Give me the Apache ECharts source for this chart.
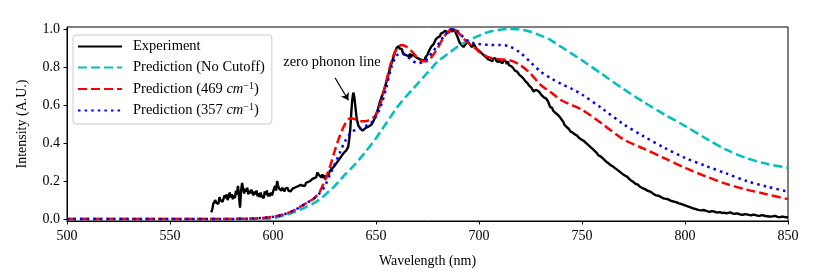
<!DOCTYPE html>
<html>
<head>
<meta charset="utf-8">
<script src="https://cdn.jsdelivr.net/npm/echarts@6/dist/echarts.min.js"></script>
<style>html,body{margin:0;padding:0;background:#fff;}#c{width:830px;height:277px;}</style>
</head>
<body>
<div id="c"></div>
<script>
// ---- data ----
const seriesNames = ['Experiment', 'Prediction (No Cutoff)', 'Prediction (469 cm-1)', 'Prediction (357 cm-1)'];
const xTicks = [500, 550, 600, 650, 700, 750, 800, 850];
const yTicks = [0.0, 0.2, 0.4, 0.6, 0.8, 1.0];

const experiment = [
[570,0.035],[570.5,0.05],[571,0.08],[571.5,0.07],[572,0.1],[572.5,0.085],[573,0.095],[573.5,0.08],[574,0.115],[574.5,0.1],
[575,0.11],[575.5,0.09],[576,0.1],[576.5,0.125],[577,0.11],[577.5,0.13],[578,0.1],[578.5,0.12],[579,0.14],[579.5,0.115],
[580,0.13],[580.5,0.105],[581,0.125],[581.5,0.11],[582,0.15],[582.5,0.13],[583,0.175],[583.5,0.12],[584,0.06],[584.5,0.15],
[585,0.19],[585.5,0.16],[586,0.135],[586.5,0.16],[587,0.145],[587.5,0.165],[588,0.13],[588.5,0.15],[589,0.135],[589.5,0.155],
[590,0.14],[590.5,0.125],[591,0.145],[591.5,0.13],[592,0.15],[592.5,0.12],[593,0.135],[593.5,0.115],[594,0.14],[594.5,0.12],
[595,0.13],[595.5,0.11],[596,0.145],[596.5,0.13],[597,0.15],[597.5,0.12],[598,0.135],[598.5,0.12],[599,0.14],[599.5,0.125],
[600,0.13],[600.5,0.16],[601,0.175],[601.5,0.15],[602,0.2],[602.5,0.175],[603,0.16],[603.5,0.17],[604,0.15],[604.5,0.165],
[605,0.155],[605.5,0.145],[606,0.16],[606.5,0.15],[607,0.165],[607.5,0.15],[608,0.16],[608.5,0.145],[609,0.155],[609.5,0.16],
[610,0.15],[610.5,0.165],[611,0.155],[611.5,0.17],[612,0.16],[612.5,0.175],[613,0.165],[613.5,0.18],[614,0.17],[614.5,0.175],
[615,0.185],[615.5,0.175],[616,0.19],[616.5,0.18],[617,0.195],[617.5,0.185],[618,0.2],[618.5,0.19],[619,0.21],[619.5,0.205],
[620,0.215],[620.5,0.225],[621,0.22],[621.5,0.245],[622,0.25],[622.5,0.23],[623,0.24],[623.5,0.22],[624,0.235],[624.5,0.215],
[625,0.23],[625.5,0.21],[626,0.225],[626.5,0.22],[627,0.235],[627.5,0.25],[628,0.24],[628.5,0.265],[629,0.26],[629.5,0.275],
[630,0.27],[630.5,0.29],[631,0.285],[631.5,0.305],[632,0.3],[632.5,0.32],[633,0.31],[633.5,0.335],[634,0.33],[634.5,0.35],
[635,0.345],[635.5,0.36],[636,0.37],[636.5,0.38],[637,0.42],[637.5,0.47],[638,0.56],[638.5,0.63],[639,0.665],[639.5,0.64],
[640,0.59],[640.5,0.54],[641,0.51],[641.5,0.49],[642,0.48],[642.5,0.475],[643,0.47],[643.5,0.465],[644,0.475],[645,0.48],
[646,0.485],[647,0.49],[648,0.5],[649,0.52],[650,0.55],[651,0.58],[652,0.62],[653,0.65],[654,0.68],[655,0.72],
[656,0.76],[657,0.8],[658,0.835],[659,0.87],[659.5,0.88],[660,0.9],[660.5,0.89],[661,0.91],[661.5,0.895],[662,0.885],
[662.5,0.895],[663,0.875],[663.5,0.885],[664,0.865],[664.5,0.875],[665,0.86],[665.5,0.87],[666,0.855],[666.5,0.87],[667,0.85],
[667.5,0.865],[668,0.875],[668.5,0.86],[669,0.87],[669.5,0.85],[670,0.86],[670.5,0.845],[671,0.855],[671.5,0.84],[672,0.85],
[672.5,0.835],[673,0.845],[673.5,0.835],[674,0.85],[675,0.865],[676,0.89],[676.5,0.885],[677,0.91],[678,0.92],[679,0.945],
[679.5,0.935],[680,0.955],[681,0.96],[681.5,0.975],[682,0.965],[682.5,0.98],[683,0.97],[683.5,0.99],[684,1.0],[684.5,0.985],
[685,0.995],[685.5,0.98],[686,1.0],[686.5,0.99],[687,0.985],[687.5,1.0],[688,1.0],[688.5,0.985],[689,0.975],[689.5,0.96],
[690,0.945],[690.5,0.93],[691,0.925],[691.5,0.915],[692,0.92],[692.5,0.905],[693,0.91],[693.5,0.92],[694,0.925],[694.5,0.935],
[695,0.93],[695.5,0.92],[696,0.925],[696.5,0.905],[697,0.91],[697.5,0.92],[698,0.915],[698.5,0.9],[699,0.905],[699.5,0.89],
[700,0.895],[700.5,0.88],[701,0.885],[701.5,0.87],[702,0.875],[702.5,0.86],[703,0.865],[703.5,0.85],[704,0.855],[704.5,0.84],
[705,0.85],[705.5,0.835],[706,0.845],[706.5,0.83],[707,0.845],[707.5,0.835],[708,0.845],[708.5,0.83],[709,0.84],[709.5,0.825],
[710,0.84],[710.5,0.825],[711,0.835],[711.5,0.82],[712,0.835],[712.5,0.825],[713,0.83],[713.5,0.815],[714,0.83],[714.5,0.81],
[715,0.82],[715.5,0.805],[716,0.815],[716.5,0.795],[717,0.8],[717.5,0.78],[718,0.79],[718.5,0.775],[719,0.78],[719.5,0.76],
[720,0.765],[720.5,0.75],[721,0.755],[721.5,0.74],[722,0.745],[722.5,0.725],[723,0.73],[723.5,0.715],[724,0.72],[724.5,0.7],
[725,0.71],[725.5,0.69],[726,0.695],[726.5,0.67],[727,0.66],[727.5,0.68],[728,0.69],[728.5,0.675],[729,0.68],[729.5,0.665],
[730,0.665],[730.5,0.65],[731,0.655],[731.5,0.64],[732,0.645],[732.5,0.635],[733,0.64],[733.5,0.62],[734,0.605],[734.5,0.59],
[735,0.58],[735.5,0.585],[736,0.57],[736.5,0.575],[737,0.56],[737.5,0.565],[738,0.55],[738.5,0.555],[739,0.54],[739.5,0.535],
[740,0.525],[740.5,0.515],[741,0.51],[741.5,0.495],[742,0.5],[742.5,0.485],[743,0.49],[743.5,0.475],[744,0.475],[744.5,0.46],
[745,0.465],[745.5,0.455],[746,0.455],[746.5,0.445],[747,0.447],[747.5,0.44],[748,0.44],[748.5,0.428],[749,0.43],[749.5,0.42],
[750,0.425],[751,0.41],[751.5,0.415],[752,0.4],[752.5,0.405],[753,0.39],[753.5,0.395],[754,0.38],[754.5,0.385],[755,0.37],
[755.5,0.372],[756,0.36],[756.5,0.365],[757,0.35],[757.5,0.352],[758,0.335],[758.5,0.33],[759,0.33],[760,0.32],[760.5,0.322],
[761,0.31],[761.5,0.315],[762,0.3],[762.5,0.305],[763,0.292],[763.5,0.295],[764,0.283],[764.5,0.287],[765,0.277],[766,0.268],
[766.5,0.272],[767,0.26],[767.5,0.262],[768,0.252],[768.5,0.255],[769,0.243],[769.5,0.245],[770,0.235],[770.5,0.238],[771,0.228],
[772,0.222],[772.5,0.225],[773,0.21],[773.5,0.212],[774,0.202],[775,0.195],[775.5,0.197],[776,0.185],[777,0.182],[777.5,0.184],
[778,0.172],[779,0.165],[779.5,0.168],[780,0.16],[781,0.155],[781.5,0.157],[782,0.148],[783,0.145],[784,0.138],[784.5,0.14],
[785,0.13],[786,0.125],[786.5,0.127],[787,0.123],[788,0.118],[789,0.112],[789.5,0.114],[790,0.108],[791,0.106],[792,0.103],
[792.5,0.105],[793,0.097],[794,0.094],[795,0.091],[795.5,0.093],[796,0.088],[797,0.083],[798,0.08],[798.5,0.082],[799,0.076],
[800,0.072],[801,0.068],[801.5,0.07],[802,0.064],[803,0.06],[804,0.056],[804.5,0.058],[805,0.054],[806,0.05],[807,0.047],
[808,0.046],[809,0.048],[810,0.045],[811,0.041],[812,0.038],[813,0.042],[814,0.04],[815,0.036],[816,0.035],[817,0.037],
[818,0.032],[819,0.034],[820,0.03],[821,0.033],[822,0.035],[823,0.03],[824,0.027],[825,0.03],[826,0.028],[827,0.024],
[828,0.022],[829,0.026],[830,0.025],[831,0.022],[832,0.02],[833,0.023],[834,0.022],[835,0.018],[836,0.017],[837,0.02],
[838,0.02],[839,0.016],[840,0.015],[841,0.014],[842,0.013],[843,0.016],[844,0.016],[845,0.012],[846,0.01],[847,0.013],
[848,0.012],[849,0.01],[850,0.01]
];

const predWl = [500,520,540,560,580,590,595,600,605,610,615,620,622.5,625,627.5,630,632.5,635,637.5,640,642.5,645,647.5,650,652.5,655,657.5,660,662.5,665,667.5,670,672.5,675,677.5,680,682.5,685,687.5,690,692.5,695,697.5,700,705,710,715,720,725,730,735,740,745,750,760,770,780,790,800,810,820,830,840,850];

const noCutoff = [0,0,0,0,0,0,0,0.004,0.018,0.035,0.058,0.085,0.103,0.125,0.15,0.175,0.205,0.235,0.262,0.29,0.322,0.355,0.39,0.425,0.465,0.505,0.545,0.585,0.618,0.65,0.68,0.71,0.74,0.77,0.8,0.83,0.85,0.87,0.89,0.91,0.925,0.94,0.953,0.965,0.985,0.995,1.0,0.997,0.985,0.965,0.94,0.905,0.87,0.835,0.76,0.685,0.615,0.55,0.49,0.425,0.365,0.32,0.29,0.27];

const cut469 = [0,0,0,0,0.001,0.003,0.006,0.012,0.024,0.045,0.076,0.11,0.14,0.2,0.27,0.36,0.44,0.5,0.53,0.525,0.515,0.515,0.525,0.548,0.62,0.725,0.83,0.895,0.915,0.905,0.88,0.85,0.83,0.83,0.86,0.9,0.95,0.985,0.998,0.98,0.95,0.925,0.905,0.88,0.85,0.84,0.835,0.81,0.765,0.705,0.665,0.625,0.6,0.575,0.5,0.42,0.37,0.32,0.27,0.225,0.185,0.155,0.13,0.105];

const cut357 = [0,0,0,0,0.001,0.003,0.006,0.012,0.024,0.045,0.076,0.11,0.135,0.17,0.23,0.29,0.35,0.41,0.45,0.47,0.48,0.49,0.505,0.54,0.6,0.69,0.8,0.86,0.87,0.855,0.835,0.82,0.825,0.845,0.88,0.915,0.955,0.985,1.0,0.985,0.955,0.935,0.925,0.92,0.916,0.916,0.907,0.875,0.825,0.775,0.74,0.71,0.685,0.655,0.58,0.5,0.435,0.375,0.322,0.28,0.24,0.2,0.17,0.145];

// annotation (data coordinates)
const annText = 'zero phonon line';
const annTextAt = [628.6, 0.826];
const annArrowFrom = [630.1, 0.743];
const annArrowTo = [636.6, 0.625];

// ---- chart ----
const FONT = 'Liberation Serif';
const pair = (xs, ys) => xs.map((x, i) => [x, ys[i]]);

const chart = echarts.init(document.getElementById('c'), null, {renderer: 'canvas'});

const legendLabel = (name) => {
  const m = name.match(/^Prediction \((\d+) cm-1\)$/);
  if (m) return 'Prediction (' + m[1] + ' {i|cm}{sup|−1})';
  return name;
};

chart.setOption({
  animation: false,
  backgroundColor: '#fff',
  grid: {left: 67, right: 42, top: 27, bottom: 56, show: true, borderColor: '#000', borderWidth: 1, backgroundColor: 'transparent'},
  legend: {
    orient: 'vertical', left: 73, top: 35,
    padding: [4, 7, 6, 4],
    itemWidth: 44, itemHeight: 14, itemGap: 6,
    borderColor: '#cccccc', borderWidth: 1, borderRadius: 3,
    backgroundColor: 'rgba(255,255,255,0.85)',
    itemStyle: {opacity: 0, borderWidth: 0},
    data: seriesNames,
    formatter: legendLabel,
    textStyle: {
      fontFamily: FONT, fontSize: 14.5, color: '#000', padding: [0, 0, 0, 6],
      rich: {
        i: {fontFamily: FONT, fontSize: 14.5, fontStyle: 'italic', color: '#000'},
        sup: {fontFamily: FONT, fontSize: 10, color: '#000', verticalAlign: 'top', padding: [0, 0, 6, 0]}
      }
    }
  },
  xAxis: {
    type: 'value', min: 500, max: 850, interval: 50,
    name: 'Wavelength (nm)', nameLocation: 'middle', nameGap: 33,
    nameTextStyle: {fontFamily: FONT, fontSize: 14, color: '#000'},
    axisLine: {show: true, onZero: false, lineStyle: {color: '#000', width: 1}},
    axisTick: {show: true, length: 3.5, lineStyle: {color: '#000', width: 1}},
    axisLabel: {fontFamily: FONT, fontSize: 14, color: '#000', margin: 8, formatter: v => String(v)},
    splitLine: {show: false}
  },
  yAxis: {
    type: 'value', min: -0.01, max: 1.01,
    name: 'Intensity (A.U.)', nameLocation: 'middle', nameGap: 38, nameRotate: 90,
    nameTextStyle: {fontFamily: FONT, fontSize: 14, color: '#000'},
    axisLine: {show: true, onZero: false, lineStyle: {color: '#000', width: 1}},
    axisTick: {show: true, length: 3.5, customValues: yTicks, lineStyle: {color: '#000', width: 1}},
    axisLabel: {fontFamily: FONT, fontSize: 14, color: '#000', margin: 7, customValues: yTicks, formatter: v => v.toFixed(1)},
    splitLine: {show: false}
  },
  series: [
    {
      name: seriesNames[0], type: 'line', data: experiment, showSymbol: false, symbol: 'none',
      lineStyle: {color: '#000', width: 2.4}, itemStyle: {color: '#000'}, z: 2,
      markLine: {
        silent: true, symbol: ['none', 'arrow'], symbolSize: 7, animation: false,
        lineStyle: {color: '#000', width: 1.2, type: 'solid'}, label: {show: false},
        data: [[{coord: annArrowFrom}, {coord: annArrowTo}]]
      },
      markPoint: {
        silent: true, animation: false,
        data: [{coord: annTextAt, symbol: 'circle', symbolSize: 1, itemStyle: {color: 'rgba(0,0,0,0)'},
          label: {show: true, position: 'inside', formatter: annText, fontFamily: FONT, fontSize: 14.5, color: '#000'}}]
      }
    },
    {
      name: seriesNames[1], type: 'line', data: pair(predWl, noCutoff), showSymbol: false, symbol: 'none', smooth: 0.3,
      lineStyle: {color: '#00BFBF', width: 2.5, type: [9, 4]}, itemStyle: {color: '#00BFBF'}, z: 3
    },
    {
      name: seriesNames[2], type: 'line', data: pair(predWl, cut469), showSymbol: false, symbol: 'none', smooth: 0.3,
      lineStyle: {color: '#FF0000', width: 2.5, type: [9, 4]}, itemStyle: {color: '#FF0000'}, z: 4
    },
    {
      name: seriesNames[3], type: 'line', data: pair(predWl, cut357), showSymbol: false, symbol: 'none', smooth: 0.3,
      lineStyle: {color: '#0000FF', width: 2.5, type: [2.5, 4.1]}, itemStyle: {color: '#0000FF'}, z: 5
    }
  ]
});
</script>
</body>
</html>
